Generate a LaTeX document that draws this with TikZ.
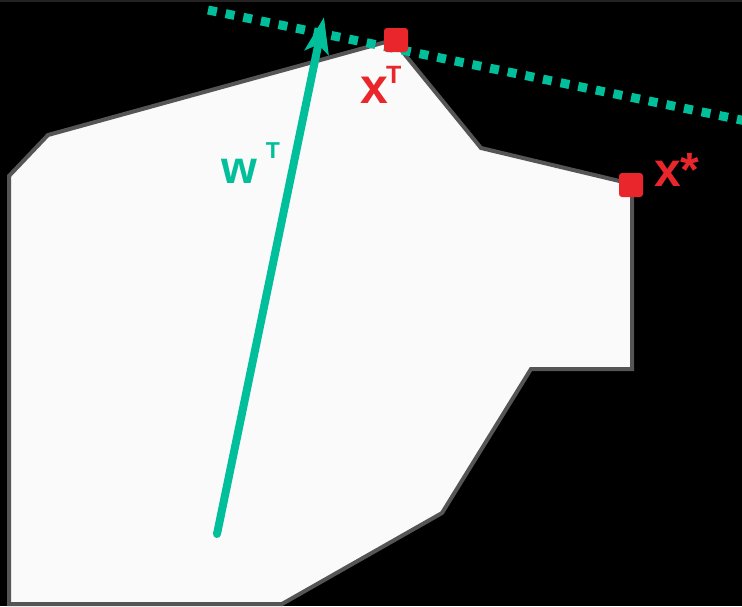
\documentclass[tikz,border=0pt]{standalone}
\usepackage{fontspec}
\setmainfont{Liberation Sans}
\usetikzlibrary{arrows.meta,positioning}
\definecolor{polyteal}{HTML}{00BF9A}
\definecolor{polyred}{HTML}{E8262B}
\definecolor{polyedge}{HTML}{555555}
\definecolor{polyfill}{HTML}{FAFAFA}
\definecolor{topstrip}{HTML}{222222}
\tikzset{
  region/.style={draw=polyedge, fill=polyfill, line width=4pt, line join=miter},
  normalvec/.style={polyteal, line width=8pt, line cap=round, -{Stealth[length=36pt, width=24pt, inset=8pt]}},
  levelline/.style={polyteal, line width=9pt, dash pattern=on 9pt off 9pt},
  vertexbox/.style={fill=polyred, rounded corners=3pt, minimum size=24pt, inner sep=0pt},
  redlabel/.style={text=polyred, font=\bfseries\fontsize{50}{52}\selectfont, inner sep=0pt, anchor=base west},
  teallabel/.style={text=polyteal, font=\bfseries\fontsize{46}{48}\selectfont, inner sep=0pt, anchor=base west}
}

\begin{document}
\begin{tikzpicture}[x=1pt, y=-1pt]
  \fill[black] (0,0) rectangle (742,606);
  \fill[topstrip] (0,0) rectangle (742,2);
  \useasboundingbox (0,0) rectangle (742,606);
  % feasible region
  \draw[region] (9,604) -- (9,176) -- (48,135) -- (393,40) -- (481,148) -- (632,184)
    -- (632,369) -- (531,369) -- (442,513) -- (282,604) -- cycle;
  % objective level line
  \coordinate (lvlA) at (208,10);
  \coordinate (lvlB) at (746,121);
  \draw[levelline] (lvlA) -- (lvlB);
  % direction w
  \coordinate (wtail) at (217,534);
  \coordinate (whead) at (324,17);
  \draw[normalvec] (wtail) -- (whead);
  % points
  \node[vertexbox] (xt) at (396,40) {};
  \node[vertexbox] (xs) at (631,185) {};
  \node[redlabel] (xtlab) at (360,103) {x\hspace{-2pt}\raisebox{20pt}{\fontsize{25}{26}\selectfont T}};
  \node[redlabel, font=\bfseries\fontsize{48}{50}\selectfont] (xslab) at (654,186) {x*};
  \node[teallabel] (wlab) at (221,183) {w\hspace{9pt}\raisebox{25pt}{\fontsize{23}{24}\selectfont T}};
\end{tikzpicture}
\end{document}
